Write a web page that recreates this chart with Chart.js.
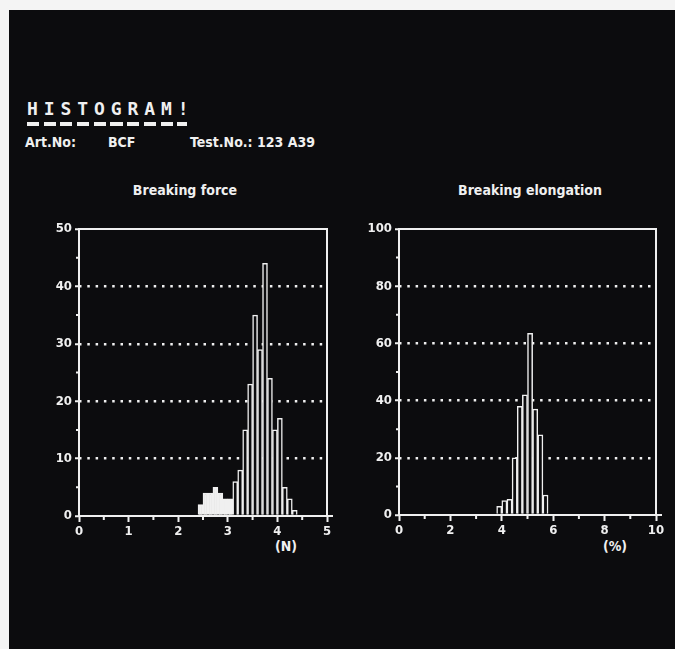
<!DOCTYPE html>
<html>
<head>
<meta charset="utf-8">
<script src="https://cdn.jsdelivr.net/npm/chart.js@4/dist/chart.umd.min.js"></script>
<style>
  body { margin: 0; width: 675px; height: 649px; background: #f4f4f4; position: relative; overflow: hidden; }
  .sheet { position: absolute; left: 9px; top: 10px; width: 666px; height: 639px; background: #0c0c0e; }
  .txt { position: absolute; color: #f0f0f0; font-family: "DejaVu Sans Condensed", "Liberation Sans Narrow", "DejaVu Sans", sans-serif; font-weight: bold; font-size: 14px; line-height: 14px; white-space: pre; }
  .head { font-family: "DejaVu Sans Mono", monospace; font-size: 18px; line-height: 18px; letter-spacing: 5.9px; }
  .dashes { position: absolute; left: 27px; top: 122px; width: 160px; height: 4px;
            background: repeating-linear-gradient(90deg, #f0f0f0 0 12px, transparent 12px 16.7px); }
  canvas { position: absolute; }
</style>
</head>
<body>
<div class="sheet"></div>

<div class="txt head" style="left:27px; top:100px;">HISTOGRAM!</div>
<div class="dashes"></div>
<div class="txt" style="left:25px; top:135px;">Art.No:</div>
<div class="txt" style="left:108px; top:135px;">BCF</div>
<div class="txt" style="left:190px; top:135px;">Test.No.: 123 A39</div>

<div class="txt" style="left:105px; top:183px; width:160px; text-align:center;">Breaking force</div>
<div class="txt" style="left:430px; top:183px; width:200px; text-align:center;">Breaking elongation</div>
<div class="txt" style="left:271px; top:539px; width:30px; text-align:center;">(N)</div>
<div class="txt" style="left:600px; top:539px; width:30px; text-align:center;">(%)</div>

<canvas id="chartForce" width="330" height="400" style="left:20px; top:170px;"></canvas>
<canvas id="chartElong" width="325" height="400" style="left:350px; top:170px;"></canvas>

<script>
// Breaking force: 0.1 N bins from 0 to 5
const forceBins = [0.0,0.1,0.2,0.3,0.4,0.5,0.6,0.7,0.8,0.9,1.0,1.1,1.2,1.3,1.4,1.5,1.6,1.7,1.8,1.9,
  2.0,2.1,2.2,2.3,2.4,2.5,2.6,2.7,2.8,2.9,3.0,3.1,3.2,3.3,3.4,3.5,3.6,3.7,3.8,3.9,
  4.0,4.1,4.2,4.3,4.4,4.5,4.6,4.7,4.8,4.9];
const forceCounts = [0,0,0,0,0,0,0,0,0,0,0,0,0,0,0,0,0,0,0,0,
  0,0,0,0,2,4,4,5,4,3,3,6,8,15,23,35,29,44,24,15,
  17,5,3,1,0,0,0,0,0,0];
const forceXTicks = [0,1,2,3,4,5];
const forceYTicks = [0,10,20,30,40,50];
const forceMinorX = [0.5,1.5,2.5,3.5,4.5];
const forceMinorY = [5,15,25,35,45];

// Breaking elongation: 0.2 % bins from 0 to 10
const elongBins = [0.0,0.2,0.4,0.6,0.8,1.0,1.2,1.4,1.6,1.8,2.0,2.2,2.4,2.6,2.8,3.0,3.2,3.4,3.6,3.8,
  4.0,4.2,4.4,4.6,4.8,5.0,5.2,5.4,5.6,5.8,6.0,6.2,6.4,6.6,6.8,7.0,7.2,7.4,7.6,7.8,
  8.0,8.2,8.4,8.6,8.8,9.0,9.2,9.4,9.6,9.8];
const elongCounts = [0,0,0,0,0,0,0,0,0,0,0,0,0,0,0,0,0,0,0,3,
  5,5.5,20,38,42,63.5,37,28,7,0,0,0,0,0,0,0,0,0,0,0,
  0,0,0,0,0,0,0,0,0,0];
const elongXTicks = [0,2,4,6,8,10];
const elongYTicks = [0,20,40,60,80,100];
const elongMinorX = [1,3,5,7,9];
const elongMinorY = [10,30,50,70,90];

const INK = '#f0f0f0';
const PAPER = '#0c0c0e';
const FONT = { family: '"DejaVu Sans Condensed", "Liberation Sans Narrow", "DejaVu Sans", sans-serif', weight: 'bold', size: 13 };

// white box round the plot + the short minor ticks
const framePlugin = {
  id: 'frame',
  afterDatasetsDraw(chart, args, opts) {
    const a = chart.chartArea, ctx = chart.ctx;
    ctx.save();
    ctx.strokeStyle = INK;
    ctx.lineWidth = 2;
    ctx.strokeRect(a.left, a.top, a.right - a.left, a.bottom - a.top);
    ctx.beginPath();
    ctx.moveTo(a.left, a.bottom);
    ctx.lineTo(a.right + 6, a.bottom);
    ctx.stroke();
    ctx.beginPath();
    opts.x.forEach(v => {
      const px = chart.scales.xt.getPixelForValue(v);
      ctx.moveTo(px, a.bottom);
      ctx.lineTo(px, a.bottom + 4);
    });
    opts.y.forEach(v => {
      const py = chart.scales.y.getPixelForValue(v);
      ctx.moveTo(a.left, py);
      ctx.lineTo(a.left - 3, py);
    });
    ctx.stroke();
    ctx.restore();
  }
};

function makeHistogram(id, o) {
  const yMax = o.yTicks[o.yTicks.length - 1];
  return new Chart(document.getElementById(id), {
    type: 'bar',
    data: {
      labels: o.bins,
      datasets: [{
        data: o.counts,
        backgroundColor: c => c.dataIndex < o.solidUntil ? INK : PAPER,
        borderColor: INK,
        borderWidth: 1.5,
        barPercentage: 1,
        categoryPercentage: 1,
        xAxisID: 'x',
        yAxisID: 'y'
      }]
    },
    options: {
      responsive: false,
      animation: false,
      events: [],
      layout: { padding: { top: 59, right: o.padRight, left: 0, bottom: 0 } },
      plugins: {
        legend: { display: false },
        tooltip: { enabled: false },
        frame: { x: o.minorX, y: o.minorY }
      },
      scales: {
        x: { type: 'category', display: false },
        xt: {
          type: 'linear',
          axis: 'x',
          position: 'bottom',
          offset: false,
          min: o.xTicks[0],
          max: o.xTicks[o.xTicks.length - 1],
          afterBuildTicks: s => { s.ticks = o.xTicks.map(v => ({ value: v })); },
          afterFit: s => { s.height = o.axisH; },
          grid: { offset: false, drawOnChartArea: false, tickLength: 6, tickWidth: 2, tickColor: INK, color: INK },
          border: { display: false },
          ticks: { color: INK, font: FONT, padding: 2, maxRotation: 0, autoSkip: false }
        },
        y: {
          min: o.yTicks[0],
          max: yMax,
          afterBuildTicks: s => { s.ticks = o.yTicks.map(v => ({ value: v })); },
          afterFit: s => { s.width = o.axisW; },
          grid: {
            color: c => (c.tick.value === 0 || c.tick.value === yMax) ? 'rgba(0,0,0,0)' : INK,
            lineWidth: 2.5,
            tickLength: 4,
            tickWidth: 2,
            tickColor: INK,
            tickBorderDash: []
          },
          border: { display: false, dash: [2.5, 5.8] },
          ticks: { color: INK, font: FONT, padding: 3 }
        }
      }
    },
    plugins: [framePlugin]
  });
}

makeHistogram('chartForce', {
  bins: forceBins, counts: forceCounts, xTicks: forceXTicks, yTicks: forceYTicks,
  minorX: forceMinorX, minorY: forceMinorY, solidUntil: 31,
  axisW: 59, axisH: 54, padRight: 23
});

makeHistogram('chartElong', {
  bins: elongBins, counts: elongCounts, xTicks: elongXTicks, yTicks: elongYTicks,
  minorX: elongMinorX, minorY: elongMinorY, solidUntil: 0,
  axisW: 49, axisH: 55, padRight: 19
});
</script>
</body>
</html>
